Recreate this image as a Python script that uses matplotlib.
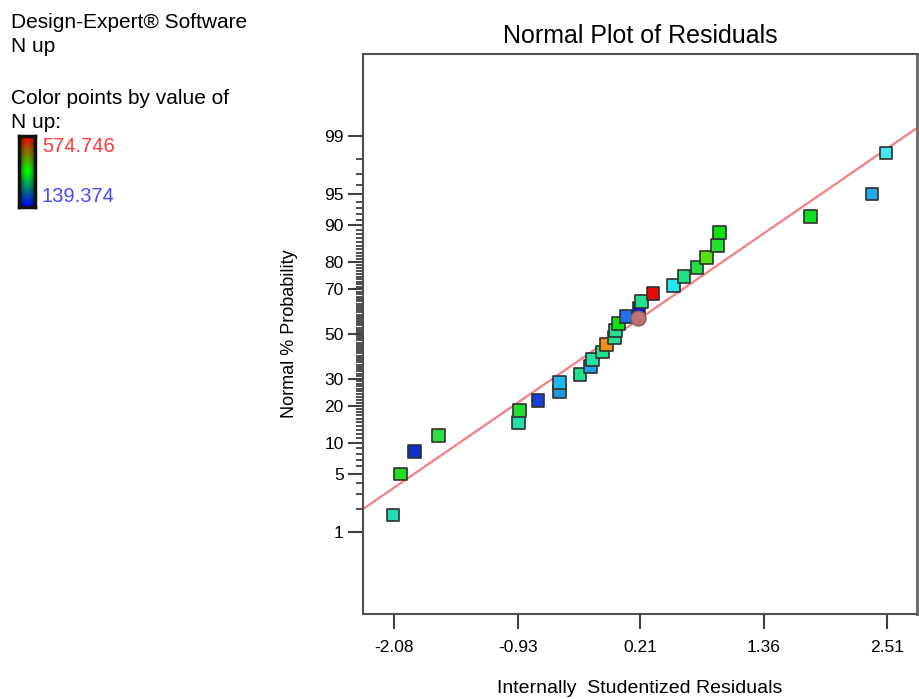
import math
from statistics import NormalDist

import numpy as np
import matplotlib
matplotlib.use("Agg")
import matplotlib.pyplot as plt
from matplotlib.colors import LinearSegmentedColormap

plt.rcParams["font.family"] = ["Liberation Sans", "DejaVu Sans"]

# Internally studentized residuals and their normal % probability (ranked)
residuals = [-2.09, -2.02, -1.89, -1.67, -0.92, -0.91, -0.74, -0.54, -0.54, -0.35,
             -0.25, -0.23, -0.14, -0.10, -0.03, -0.02, 0.01, 0.08, 0.20, 0.22,
             0.33, 0.52, 0.62, 0.74, 0.83, 0.93, 0.95, 1.80, 2.37, 2.50]
probability = [1.67, 5.0, 8.33, 11.67, 15.0, 18.33, 21.67, 25.0, 28.33, 31.67,
               35.0, 38.33, 41.67, 45.0, 48.33, 51.67, 55.0, 58.33, 61.67, 65.0,
               68.33, 71.67, 75.0, 78.33, 81.67, 85.0, 88.33, 91.67, 95.0, 98.33]
# point colours (by N up value)
point_colors = ["#22dcb4", "#22dd22", "#1030c8", "#33dd44", "#22e0a8", "#22dd33",
                "#1840d8", "#2098e0", "#20b8f0", "#22e08a", "#20a0f0", "#22e0a0",
                "#22e090", "#f09018", "#22e090", "#22e090", "#11e011", "#2070f0",
                "#1010f0", "#22e090", "#ee0a0a", "#22e8f0", "#22e080", "#22e040",
                "#55e010", "#22e030", "#10e010", "#10e020", "#20a8e8", "#44e8f0"]

# highlighted run (circle)
circle_x, circle_p = 0.19, 57.5

# reference line: z = slope * residual + offset
line_slope, line_offset = 0.868, 0.0

x_ticks = [-2.08, -0.93, 0.21, 1.36, 2.51]
x_tick_labels = ["-2.08", "-0.93", "0.21", "1.36", "2.51"]
y_ticks = [1, 5, 10, 20, 30, 50, 70, 80, 90, 95, 99]
y_minor = [p for p in range(2, 99) if p not in y_ticks]

nup_max, nup_min = "574.746", "139.374"

_nd = NormalDist()


def _to_z(p):
    p = np.clip(np.asarray(p, dtype=float), 1e-9, 100 - 1e-9)
    return np.vectorize(lambda v: _nd.inv_cdf(v / 100.0))(p)


def _to_p(z):
    z = np.asarray(z, dtype=float)
    return np.vectorize(lambda v: 50.0 * (1.0 + math.erf(v / math.sqrt(2.0))))(z)


fig = plt.figure(figsize=(9.2, 6.99), dpi=100)
ax = fig.add_axes([0.3946, 0.1216, 0.6022, 0.8011])
ax.set_yscale("function", functions=(_to_z, _to_p))

x_lo, x_hi = -2.37, 2.79
ax.set_xlim(x_lo, x_hi)
ax.set_ylim(0.05, 99.95)

# fitted normal line
lx = np.array([x_lo, x_hi])
ax.plot(lx, _to_p(line_slope * lx + line_offset), color="#f77f7f", lw=1.6, zorder=2)

ax.scatter(residuals, probability, marker="s", s=85, c=point_colors,
           edgecolors="#303030", linewidths=1.2, zorder=3)
ax.scatter([circle_x], [circle_p], marker="o", s=115, c="#c07272",
           edgecolors="#806060", linewidths=1.0, zorder=4)

ax.set_xticks(x_ticks, labels=x_tick_labels)
ax.set_yticks(y_ticks, labels=[str(v) for v in y_ticks])
ax.set_yticks(y_minor, minor=True)
ax.tick_params(axis="x", length=11, width=1.5, pad=8, color="#404040",
               labelsize=12.5)
ax.tick_params(axis="y", which="major", length=11, width=1.5, pad=3,
               color="#404040", labelsize=12.5)
ax.tick_params(axis="y", which="minor", length=5, width=1.3, color="#404040")
ax.tick_params(axis="x", which="minor", bottom=False)

for side in ["left", "bottom", "top", "right"]:
    ax.spines[side].set_color("#505050")
    ax.spines[side].set_linewidth(1.5)
ax.spines["right"].set_linewidth(2.2)
ax.spines["right"].set_color("#707070")

ax.set_title("Normal Plot of Residuals", fontsize=18, pad=8)
ax.set_ylabel("Normal % Probability", fontsize=13)
ax.yaxis.set_label_coords(-0.117, 0.5)
ax.set_xlabel("Internally  Studentized Residuals", fontsize=14)
ax.xaxis.set_label_coords(0.5, -0.117)
ax.xaxis.label.set_va("top")

# side notes
fig.text(11 / 920, 1 - 22 / 699, "Design-Expert\u00ae Software", fontsize=15, va="center")
fig.text(11 / 920, 1 - 46 / 699, "N up", fontsize=15, va="center")
fig.text(11 / 920, 1 - 98 / 699, "Color points by value of", fontsize=15, va="center")
fig.text(11 / 920, 1 - 122 / 699, "N up:", fontsize=15, va="center")
fig.text(42 / 920, 1 - 147 / 699, nup_max, fontsize=14.5, va="center", color="#ff3838")
fig.text(42 / 920, 1 - 196 / 699, nup_min, fontsize=14.5, va="center", color="#4848ff")

# colour key bar
cmap = LinearSegmentedColormap.from_list("nup", ["#0000ff", "#00ff00", "#ff0000"])
v = np.linspace(0, 1, 100)[:, None]
h = np.linspace(0, 1, 12)[None, :]
shade = 0.45 + 0.55 * np.sin(np.pi * h)
img = cmap(v)[:, :, :3] * shade[:, :, None]
cax = fig.add_axes([19 / 920, 1 - 207 / 699, 16 / 920, 71 / 699])
cax.imshow(img, origin="lower", aspect="auto", interpolation="bilinear")
cax.set_xticks([])
cax.set_yticks([])
for s in cax.spines.values():
    s.set_linewidth(2.5)
    s.set_color("#111111")

fig.savefig("out.png", dpi=100)
